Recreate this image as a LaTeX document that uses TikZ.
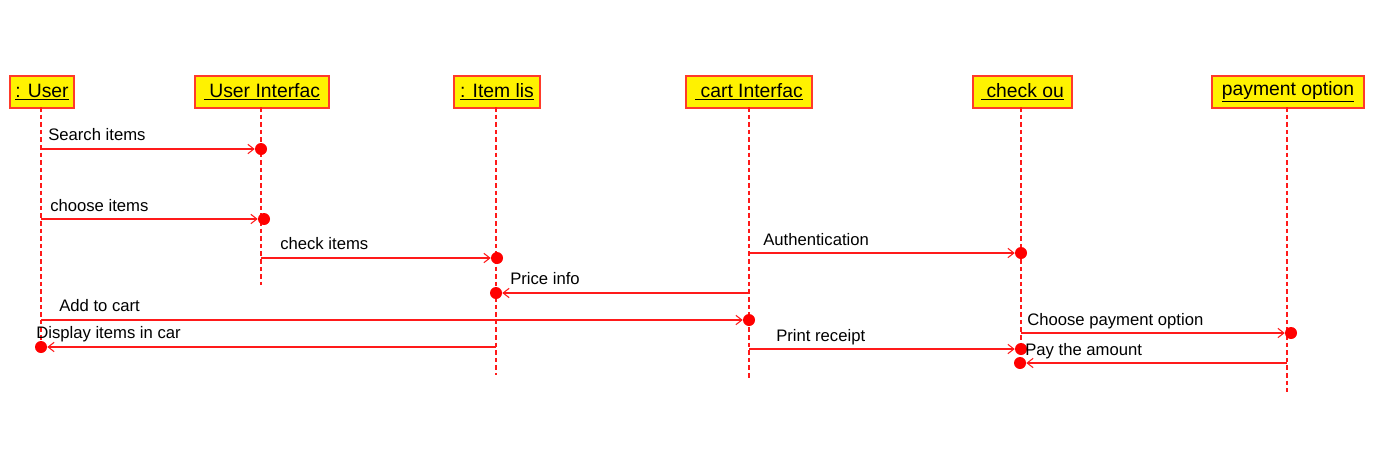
\documentclass[tikz,border=0pt]{standalone}
\usepackage{fontspec}
\setmainfont{Liberation Sans}
\usetikzlibrary{arrows.meta}
\definecolor{lred}{HTML}{FF1A1A}
\definecolor{bred}{HTML}{FF3A2A}
\begin{document}
\begin{tikzpicture}[x=0.75pt,y=-0.75pt,
  obj/.style={draw=bred,line width=1.5pt,fill=yellow,anchor=north west,inner sep=0pt,font=\fontsize{14.5}{16}\selectfont},
  life/.style={draw=lred,line width=0.8pt,dash pattern=on 3.5pt off 2.2pt},
  msg/.style={draw=lred,line width=0.8pt,-{Straight Barb[length=4.5pt,width=7pt]}},
  dot/.style={circle,fill=red,minimum size=9pt,inner sep=0pt},
  lbl/.style={anchor=base west,inner sep=0pt,font=\fontsize{12.5}{14}\selectfont}]
\useasboundingbox (0,0) rectangle (1376,461);
% objects
\node[obj,minimum width=48pt,minimum height=24pt] (b1) at (9,75) {\underline{: User}};
\node[obj,minimum width=100.5pt,minimum height=24pt] (b2) at (194,75) {\underline{ User Interfac}};
\node[obj,minimum width=64.5pt,minimum height=24pt] (b3) at (453,75) {\underline{: Item lis}};
\node[obj,minimum width=94.5pt,minimum height=24pt] (b4) at (685,75) {\underline{ cart Interfac}};
\node[obj,minimum width=74.25pt,minimum height=24pt] (b5) at (972,75) {\underline{ check ou}};
\node[obj,minimum width=114pt,minimum height=24pt] (b6) at (1211,75) {\underline{payment option}};
% lifeline ends
\coordinate (e1) at (41,347);
\coordinate (e2) at (261,285);
\coordinate (e3) at (496,375);
\coordinate (e4) at (749,378);
\coordinate (e5) at (1021,368);
\coordinate (e6) at (1287,392);
\draw[life] (41,107) -- (e1);
\draw[life] (261,107) -- (e2);
\draw[life] (496,107) -- (e3);
\draw[life] (749,107) -- (e4);
\draw[life] (1021,107) -- (e5);
\draw[life] (1287,107) -- (e6);
% message start points
\coordinate (s1) at (41,149);
\coordinate (s2) at (41,219);
\coordinate (s3) at (261,258);
\coordinate (s4) at (749,253);
\coordinate (s5) at (749,293);
\coordinate (s6) at (41,320);
\coordinate (s7) at (496,347);
\coordinate (s8) at (749,349);
\coordinate (s9) at (1021,333);
\coordinate (s10) at (1287,363);
% activation dots
\node[dot] (d1) at (261,149) {};
\node[dot] (d2) at (264,219) {};
\node[dot] (d3) at (497,258) {};
\node[dot] (d4) at (1021,253) {};
\node[dot] (d5) at (496,293) {};
\node[dot] (d6) at (749,320) {};
\node[dot] (d7) at (41,347) {};
\node[dot] (d8) at (1021,349) {};
\node[dot] (d9) at (1291,333) {};
\node[dot] (d10) at (1020,363) {};
% messages
\draw[msg] (s1) -- (d1);
\draw[msg] (s2) -- (d2);
\draw[msg] (s3) -- (d3);
\draw[msg] (s4) -- (d4);
\draw[msg] (s5) -- (d5);
\draw[msg] (s6) -- (d6);
\draw[msg] (s7) -- (d7);
\draw[msg] (s8) -- (d8);
\draw[msg] (s9) -- (d9);
\draw[msg] (s10) -- (d10);
% labels
\node[lbl] (l1) at (48,140) {Search items};
\node[lbl] (l2) at (50,211) {choose items};
\node[lbl] (l3) at (280,249) {check items};
\node[lbl] (l4) at (763,245) {Authentication};
\node[lbl] (l5) at (510,284) {Price info};
\node[lbl] (l6) at (59,311) {Add to cart};
\node[lbl] (l7) at (36,338) {Display items in car};
\node[lbl] (l8) at (776,341) {Print receipt};
\node[lbl] (l9) at (1027,325) {Choose payment option};
\node[lbl] (l10) at (1025,355) {Pay the amount};
\end{tikzpicture}
\end{document}
